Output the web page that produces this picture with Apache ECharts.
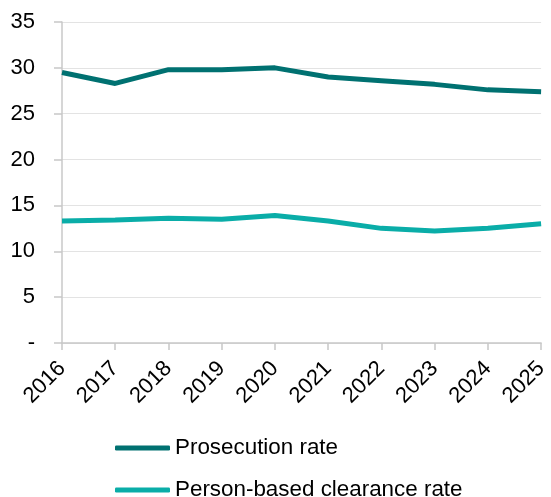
<!DOCTYPE html>
<html><head><meta charset="utf-8">
<script src="https://cdn.jsdelivr.net/npm/echarts@6/dist/echarts.min.js"></script>
<style>html,body{margin:0;padding:0;background:#fff}#c{width:551px;height:497px}</style>
</head><body><div id="c"></div>
<script>
const years = ['2016','2017','2018','2019','2020','2021','2022','2023','2024','2025'];
const prosecutionRate = [29.5, 28.3, 29.8, 29.8, 30.0, 29.0, 28.6, 28.2, 27.6, 27.4];
const clearanceRate = [13.3, 13.4, 13.6, 13.5, 13.9, 13.3, 12.5, 12.2, 12.5, 13.0];
const seriesNames = ['Prosecution rate', 'Person-based clearance rate'];
const colors = ['#007171', '#0AADA8'];
const chart = echarts.init(document.getElementById('c'));
const font = 'Liberation Sans, Arial, sans-serif';
const legendBase = {
  orient: 'vertical', left: 115, padding: 0,
  itemWidth: 55, itemHeight: 5, icon: 'roundRect',
  textStyle: {fontFamily: font, fontSize: 22.4, color: '#000'}
};
chart.setOption({
  animation: false,
  grid: {left: 62, right: 6, top: 22, bottom: 154, containLabel: false},
  legend: [
    Object.assign({}, legendBase, {top: 437, data: [seriesNames[0]]}),
    Object.assign({}, legendBase, {top: 479, data: [seriesNames[1]]})
  ],
  xAxis: {
    type: 'category', data: years, boundaryGap: false,
    axisLine: {lineStyle: {color: '#c8c8c8', width: 1.5}},
    axisTick: {show: true, length: 7, lineStyle: {color: '#c8c8c8', width: 1.5}},
    axisLabel: {rotate: 45, fontFamily: font, fontSize: 22, color: '#000', margin: 22},
    splitLine: {show: false}
  },
  yAxis: {
    type: 'value', min: 0, max: 35, interval: 5,
    axisLine: {show: true, lineStyle: {color: '#c8c8c8', width: 1.5}},
    axisTick: {show: true, length: 8, lineStyle: {color: '#c8c8c8', width: 1.5}},
    axisLabel: {fontFamily: font, fontSize: 22, color: '#000', margin: 27,
      formatter: v => v === 0 ? '-' : String(v)},
    splitLine: {lineStyle: {color: '#e3e3e3', width: 1}}
  },
  series: [
    {name: seriesNames[0], type: 'line', data: prosecutionRate, showSymbol: false,
     symbol: 'none', color: colors[0], lineStyle: {width: 5, color: colors[0]}},
    {name: seriesNames[1], type: 'line', data: clearanceRate, showSymbol: false,
     symbol: 'none', color: colors[1], lineStyle: {width: 5, color: colors[1]}}
  ]
});
</script></body></html>
